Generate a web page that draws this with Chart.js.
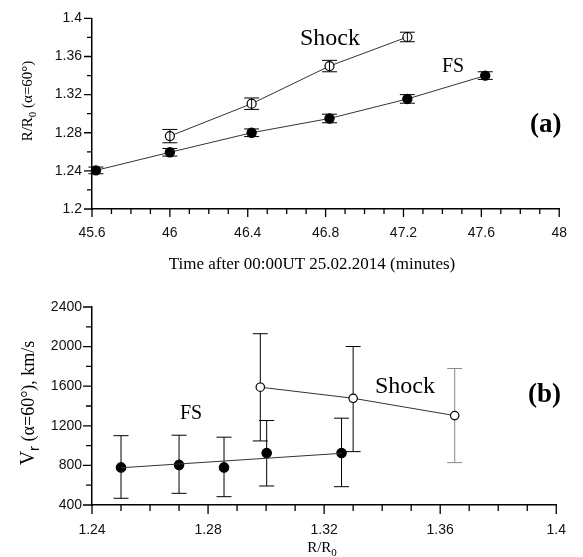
<!DOCTYPE html>
<html lang="en">
<head>
<meta charset="UTF-8">
<title>Shock and FS</title>
<script src="https://cdn.jsdelivr.net/npm/chart.js@4.4.1/dist/chart.umd.min.js"></script>
<style>
  body { margin: 0; background: #fff; }
  .panel { position: absolute; left: 0; }
  .panel canvas { display: block; }
  #panelA { top: 0; }
  #panelB { top: 280px; }
</style>
</head>
<body>
<div class="panel" id="panelA"><canvas id="chartA" width="583" height="280"></canvas></div>
<div class="panel" id="panelB"><canvas id="chartB" width="583" height="277"></canvas></div>

<script>
// --- panel (a): R/R0 against time ---
const timeFS = [45.62, 46.0, 46.42, 46.82, 47.22, 47.62];
const rFS = [1.2405, 1.2595, 1.28, 1.295, 1.3155, 1.34];
const rFSErr = [0.0035, 0.004, 0.004, 0.0045, 0.0045, 0.004];

const timeShock = [46.0, 46.42, 46.82, 47.22];
const rShock = [1.2765, 1.3105, 1.35, 1.3805];
const rShockErr = [0.007, 0.006, 0.006, 0.005];

// --- panel (b): Vr against R/R0 ---
const distFS = [1.25, 1.27, 1.2855, 1.3002, 1.326];
const vFS = [780, 805, 780, 925, 925];
const vFSHigh = [1100, 1105, 1085, 1253, 1277];
const vFSLow = [468, 518, 484, 592, 585];
// straight fit line through the FS points
const fitFSDist = [1.25, 1.326];
const fitFSV = [776, 922];

const distShock = [1.298, 1.33, 1.365];
const vShock = [1590, 1478, 1303];
const vShockHigh = [2130, 2001, 1779];
const vShockLow = [1047, 939, 828];

const serif = '"Liberation Serif", "Times New Roman", serif';
const sans = '"Liberation Sans", Arial, sans-serif';

// helpers
function pts(xs, ys) {
  return xs.map((x, i) => ({ x: x, y: ys[i] }));
}

function richText(ctx, parts, x, y, rot) {
  ctx.save();
  ctx.translate(x, y);
  if (rot) ctx.rotate(rot);
  let total = 0;
  parts.forEach(p => { ctx.font = p.font; p.w = ctx.measureText(p.t).width; total += p.w; });
  let cx = -total / 2;
  ctx.textAlign = 'left';
  ctx.textBaseline = 'alphabetic';
  ctx.fillStyle = '#000';
  parts.forEach(p => { ctx.font = p.font; ctx.fillText(p.t, cx, p.dy || 0); cx += p.w; });
  ctx.restore();
}

// tick marks drawn outward, long for labelled ticks, short for the rest
function makeTicks(major, minor) {
  return {
    id: 'tickMarks',
    afterDraw(chart) {
      const ctx = chart.ctx;
      const xs = chart.scales.x, ys = chart.scales.y;
      const area = chart.chartArea;
      ctx.save();
      ctx.strokeStyle = '#000';
      ctx.lineWidth = 1.3;
      ctx.beginPath();
      xs.ticks.forEach(t => {
        const px = xs.getPixelForValue(t.value);
        ctx.moveTo(px, area.bottom);
        ctx.lineTo(px, area.bottom + (t.label !== '' ? major : minor));
      });
      ys.ticks.forEach(t => {
        const py = ys.getPixelForValue(t.value);
        ctx.moveTo(area.left, py);
        ctx.lineTo(area.left - (t.label !== '' ? major : minor), py);
      });
      ctx.stroke();
      ctx.restore();
    }
  };
}

// vertical error bars with caps
function makeErrors(sets, hook) {
  const plugin = { id: 'errorBars' };
  plugin[hook] = function (chart) {
    const ctx = chart.ctx;
    const xs = chart.scales.x, ys = chart.scales.y;
    ctx.save();
    ctx.lineWidth = 1;
    sets.forEach(s => {
      s.x.forEach((xv, i) => {
        const px = xs.getPixelForValue(xv);
        const top = ys.getPixelForValue(s.hi[i]);
        const bot = ys.getPixelForValue(s.lo[i]);
        ctx.strokeStyle = s.colors ? s.colors[i] : '#000';
        ctx.beginPath();
        ctx.moveTo(px, top); ctx.lineTo(px, bot);
        ctx.moveTo(px - 7.5, top); ctx.lineTo(px + 7.5, top);
        ctx.moveTo(px - 7.5, bot); ctx.lineTo(px + 7.5, bot);
        ctx.stroke();
      });
    });
    ctx.restore();
  };
  return plugin;
}

function makeText(draw) {
  return { id: 'labels', afterDraw(chart) { draw(chart.ctx); } };
}

function axisX(min, max, step, every, pad, height) {
  return {
    type: 'linear', min: min, max: max,
    grid: { display: false, drawTicks: false },
    border: { display: true, color: '#000', width: 1.5 },
    ticks: {
      stepSize: step, autoSkip: false, maxRotation: 0, padding: pad,
      color: '#111', font: { family: sans, size: 14 },
      callback: v => (Math.round(v / step) % every === 0 ? String(+v.toFixed(4)) : '')
    },
    afterFit: s => { s.height = height; }
  };
}

function axisY(min, max, step, every) {
  return {
    type: 'linear', min: min, max: max,
    grid: { display: false, drawTicks: false },
    border: { display: true, color: '#000', width: 1.5 },
    ticks: {
      stepSize: step, autoSkip: false, padding: 10,
      color: '#111', font: { family: sans, size: 14 },
      callback: v => (Math.round(v / step) % every === 0 ? String(+v.toFixed(4)) : '')
    },
    afterFit: s => { s.width = 92; }
  };
}

function series(data, filled, radius, line) {
  return {
    data: data,
    showLine: line !== false,
    borderColor: '#333',
    borderWidth: 1,
    pointRadius: radius,
    pointHoverRadius: radius,
    pointBackgroundColor: filled ? '#000' : '#fff',
    pointBorderColor: '#000',
    pointBorderWidth: 1.2,
    clip: false
  };
}

// --- chart (a) ---
const rFSHi = rFS.map((v, i) => v + rFSErr[i]);
const rFSLo = rFS.map((v, i) => v - rFSErr[i]);
const rShHi = rShock.map((v, i) => v + rShockErr[i]);
const rShLo = rShock.map((v, i) => v - rShockErr[i]);

new Chart(document.getElementById('chartA'), {
  type: 'scatter',
  data: {
    datasets: [
      series(pts(timeFS, rFS), true, 4.6),
      series(pts(timeShock, rShock), false, 4.5)
    ]
  },
  options: {
    responsive: false,
    animation: false,
    layout: { padding: { top: 13, right: 23, left: 0, bottom: 0 } },
    plugins: { legend: { display: false }, tooltip: { enabled: false } },
    scales: {
      x: axisX(45.6, 48, 0.1, 4, 16, 71),
      y: axisY(1.2, 1.4, 0.02, 2)
    }
  },
  plugins: [
    makeTicks(8, 5),
    makeErrors([
      { x: timeFS, hi: rFSHi, lo: rFSLo },
      { x: timeShock, hi: rShHi, lo: rShLo }
    ], 'afterDatasetsDraw'),
    makeText(ctx => {
      richText(ctx, [{ t: 'Time after 00:00UT 25.02.2014 (minutes)', font: '17px ' + serif }], 312, 269);
      richText(ctx, [
        { t: 'R/R', font: '15px ' + serif },
        { t: '0', font: '11px ' + serif, dy: 4 },
        { t: ' (\u03B1=60\u00B0)', font: '15px ' + serif }
      ], 32, 101, -Math.PI / 2);
      ctx.fillStyle = '#000';
      ctx.textAlign = 'left';
      ctx.textBaseline = 'alphabetic';
      ctx.font = '24px ' + serif;
      ctx.fillText('Shock', 300, 45);
      ctx.font = '20px ' + serif;
      ctx.fillText('FS', 442, 72);
      ctx.font = 'bold 27px ' + serif;
      ctx.fillText('(a)', 530, 132);
    })
  ]
});

// --- chart (b) ---
new Chart(document.getElementById('chartB'), {
  type: 'scatter',
  data: {
    datasets: [
      series(pts(fitFSDist, fitFSV), true, 0),
      series(pts(distFS, vFS), true, 4.7, false),
      series(pts(distShock, vShock), false, 4.2)
    ]
  },
  options: {
    responsive: false,
    animation: false,
    layout: { padding: { top: 27, right: 22, left: 0, bottom: 0 } },
    plugins: { legend: { display: false }, tooltip: { enabled: false } },
    scales: {
      x: axisX(1.24, 1.4, 0.01, 4, 17, 52),
      y: axisY(400, 2400, 200, 2)
    }
  },
  plugins: [
    makeTicks(9, 6),
    makeErrors([
      { x: distFS, hi: vFSHigh, lo: vFSLow },
      { x: distShock, hi: vShockHigh, lo: vShockLow, colors: ['#000', '#000', '#888'] }
    ], 'beforeDatasetsDraw'),
    makeText(ctx => {
      richText(ctx, [
        { t: 'R/R', font: '15px ' + serif },
        { t: '0', font: '11px ' + serif, dy: 4 }
      ], 322, 272);
      richText(ctx, [
        { t: 'V', font: '20px ' + serif },
        { t: 'r', font: '15px ' + sans, dy: 5 },
        { t: ' (\u03B1=60\u00B0), km/s', font: '18px ' + serif }
      ], 34, 123, -Math.PI / 2);
      ctx.fillStyle = '#000';
      ctx.textAlign = 'left';
      ctx.textBaseline = 'alphabetic';
      ctx.font = '24px ' + serif;
      ctx.fillText('Shock', 375, 113);
      ctx.font = '20px ' + serif;
      ctx.fillText('FS', 180, 139);
      ctx.font = 'bold 27px ' + serif;
      ctx.fillText('(b)', 528, 122);
    })
  ]
});
</script>
</body>
</html>
